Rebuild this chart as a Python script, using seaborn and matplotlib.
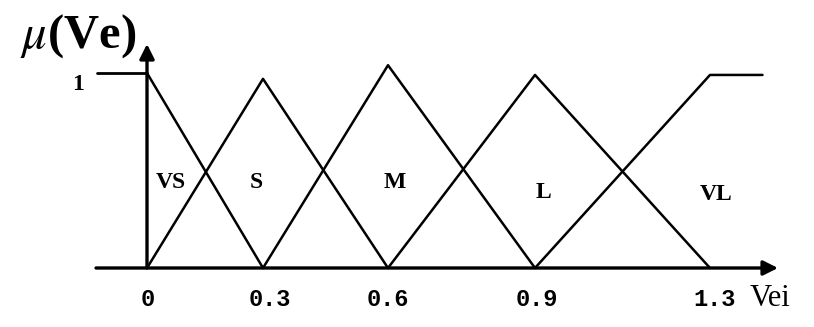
import numpy as np
import pandas as pd
import matplotlib
matplotlib.use("Agg")
import matplotlib.pyplot as plt
import seaborn as sns

# ---- data ----
set_names = ["VS", "S", "M", "L", "VL"]
vs_x, vs_mu = [0.0, 0.3], [1.0, 0.0]
s_x, s_mu = [0.0, 0.3, 0.6], [0.0, 0.97, 0.0]
m_x, m_mu = [0.3, 0.6, 0.9], [0.0, 1.04, 0.0]
l_x, l_mu = [0.6, 0.9, 1.3], [0.0, 0.99, 0.0]
vl_x, vl_mu = [0.9, 1.3, 1.42], [0.0, 0.99, 0.99]
tick_values = [0.0, 0.3, 0.6, 0.9, 1.3]
tick_labels = ["0", "0.3", "0.6", "0.9", "1.3"]

rows = []
for name, xs, ms in zip(set_names, [vs_x, s_x, m_x, l_x, vl_x],
                        [vs_mu, s_mu, m_mu, l_mu, vl_mu]):
    for i, (a, b) in enumerate(zip(xs, ms)):
        rows.append({"set": name, "x": a, "mu": b, "order": i})
df = pd.DataFrame(rows)

sns.set_theme(style="white")
plt.rcParams["font.family"] = ["Liberation Serif", "DejaVu Serif"]
plt.rcParams["mathtext.fontset"] = "stix"

# the drawing's x axis is not evenly spaced: piecewise-linear scale
knot_v = np.array([-2.0, 0.0, 0.3, 0.6, 0.9, 1.3, 4.0])
knot_p = np.array([147 - 2.0 * 386.67, 147, 263, 388, 535, 710, 710 + 2.7 * 437.5])


def fwd(v):
    return np.interp(v, knot_v, knot_p)


def inv(p):
    return np.interp(p, knot_p, knot_v)


fig = plt.figure(figsize=(8.14, 3.27), dpi=100)
ax = fig.add_axes([0, 0, 1, 1])
ax.set_xscale("function", functions=(fwd, inv))
ax.set_xlim(inv(0), inv(814))
ax.set_ylim(-(327 - 268) / 195.0, 268 / 195.0)
ax.axis("off")

sns.lineplot(data=df, x="x", y="mu", hue="set", units="set", estimator=None,
             sort=False, palette=["black"] * 5, legend=False, lw=1.8, ax=ax)

# axes with arrows
ax.annotate("", xy=(inv(778), 0), xytext=(inv(96), 0),
            arrowprops=dict(arrowstyle="-|>", lw=2.4, color="black",
                            mutation_scale=22, shrinkA=0, shrinkB=0))
ax.annotate("", xy=(0, (268 - 44) / 195.0), xytext=(0, 0),
            arrowprops=dict(arrowstyle="-|>", lw=2.4, color="black",
                            mutation_scale=22, shrinkA=0, shrinkB=0))
ax.plot([inv(97), 0], [1, 1], color="black", lw=2.0)

# texts
ax.text(inv(78), (268 - 36) / 195.0, r"$\mu$(Ve)", fontsize=35,
        fontweight="bold", ha="center", va="center", color="black")
ax.text(inv(78), (268 - 85) / 195.0, "1", fontsize=17, fontweight="bold",
        ha="center", va="center", color="black")

label_pos = {"VS": (171, 182), "S": (256, 183), "M": (395, 183),
             "L": (543, 192), "VL": (716, 194)}
for name in set_names:
    px, py = label_pos[name]
    ax.text(inv(px), (268 - py) / 195.0, name, fontsize=17, fontweight="bold",
            ha="center", va="center", color="black")

tick_px_offset = [1, 7, 0, 2, 5]
for v, lab, off in zip(tick_values, tick_labels, tick_px_offset):
    ax.text(inv(fwd(v) + off), (268 - 300) / 195.0, lab, fontsize=17,
            family="Liberation Mono", fontweight="bold",
            ha="center", va="center", color="black")
ax.text(inv(770), (268 - 298) / 195.0, "Vei", fontsize=22,
        ha="center", va="center", color="black")

fig.savefig("out.png", dpi=100)
